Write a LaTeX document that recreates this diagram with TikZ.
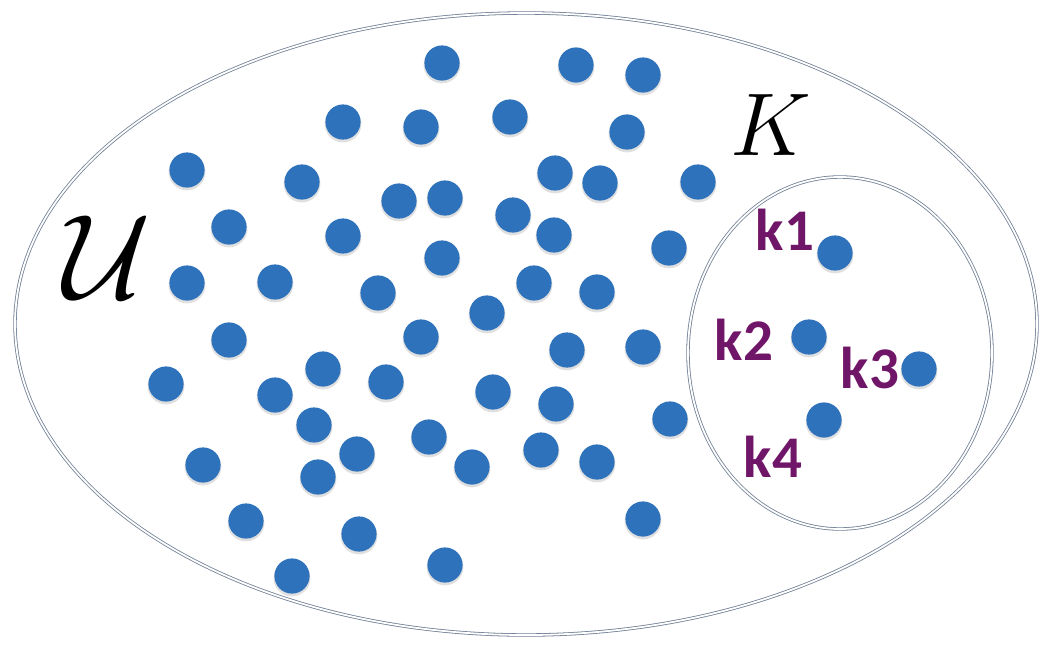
\documentclass[tikz,border=0pt]{standalone}
\usepackage{fontspec}
\usepackage{graphicx}
\usepackage{tikz}
\usetikzlibrary{positioning}
\newfontfamily\keyfont{Carlito}
\definecolor{dotblue}{RGB}{46,114,188}
\definecolor{rimgray}{RGB}{112,128,150}
\definecolor{keypurple}{RGB}{112,22,104}

\begin{document}
\begin{tikzpicture}[x=0.25mm, y=-0.25mm,
  rim/.style={draw=rimgray, line width=0.2mm, double=white, double distance=0.45mm},
  dot/.style={circle, fill=dotblue, inner sep=0pt, minimum size=8.8mm},
  shade/.style={circle, fill=black, opacity=0.12, inner sep=0pt, minimum size=9.2mm},
  keylbl/.style={font=\keyfont\bfseries\fontsize{42}{42}\selectfont, text=keypurple, inner sep=0pt}
]
\useasboundingbox (0,0) rectangle (1048,644);

% outer set U and inner set K
\draw[rim] (526,324) ellipse [x radius=511, y radius=311];
\draw[rim] (840,353) ellipse [x radius=152, y radius=176];

\node[inner sep=0pt] (ulbl) at (107,257) {\Huge\scalebox{3.45}{$\mathcal{U}$}};
\node[inner sep=0pt] (klbl) at (771,125) {\Huge\scalebox{2.55}{$K$}};

% elements of U
\foreach \px/\py [count=\i] in {442/63, 576/65, 643/75,
    343/122, 421/127, 510/117, 627/132,
    187/170, 302/182, 399/201, 445/198, 555/173, 600/183, 698/182,
    229/227, 343/236, 513/215, 554/235, 669/248,
    187/283, 275/282, 442/258, 378/293, 534/283, 597/292, 487/313,
    229/340, 421/337, 567/350, 643/347,
    166/384, 323/369, 275/395, 386/382, 493/392, 556/404, 670/419,
    314/425, 429/437, 357/454, 541/450, 203/465, 318/477, 472/467, 597/462,
    246/521, 359/534, 643/519,
    292/576, 445/565}
{
  \node[shade] at (\px,\py+2) {};
  \node[dot] (u\i) at (\px,\py) {};
}

% elements of K
\foreach \px/\py/\nm in {835/253/k1, 809/337/k2, 919/369/k3, 824/420/k4}
{
  \node[shade] at (\px,\py+2) {};
  \node[dot] (\nm) at (\px,\py) {};
}

\node[keylbl] (k1lbl) at (785,230) {k1};
\node[keylbl] (k2lbl) at (744,340) {k2};
\node[keylbl] (k3lbl) at (870,368) {k3};
\node[keylbl] (k4lbl) at (773,457) {k4};
\end{tikzpicture}
\end{document}
